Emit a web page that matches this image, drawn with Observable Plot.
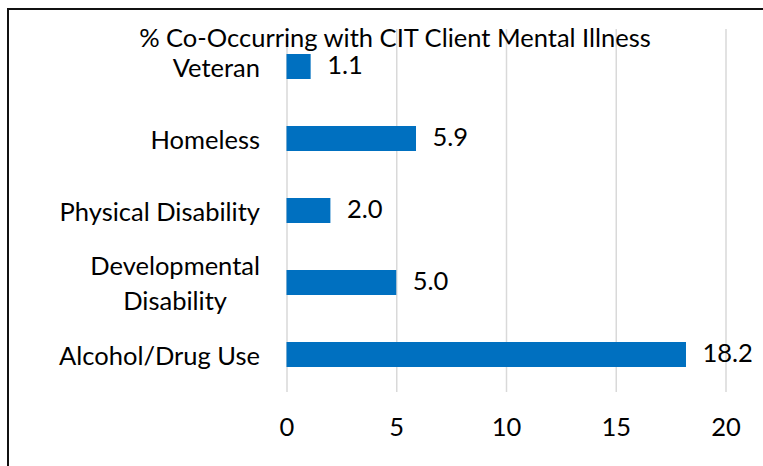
<!DOCTYPE html>
<html><head><meta charset="utf-8">
<script src="https://cdn.jsdelivr.net/npm/d3@7"></script>
<script src="https://cdn.jsdelivr.net/npm/@observablehq/plot@0.6"></script>
<style>
html,body{margin:0;padding:0;background:#fff;overflow:hidden}
#wrap{position:relative;width:763px;height:466px}
#wrap svg{position:absolute;left:0;top:0}
#frame{position:absolute;left:7px;top:8px;width:800px;height:500px;border-top:2px solid #111;border-left:2px solid #111;pointer-events:none}
</style></head><body>
<div id="wrap"><div id="frame"></div></div>
<script>
const categories = ["Veteran", "Homeless", "Physical Disability", "Developmental Disability", "Alcohol/Drug Use"];
const values = [1.1, 5.9, 2.0, 5.0, 18.2];
const xTicks = [0, 5, 10, 15, 20];
const title = "% Co-Occurring with CIT Client Mental Illness";

const data = categories.map((c, i) => ({category: c, value: values[i]}));
const font = "Lato, 'Open Sans', sans-serif";
const fs = 25.5;

const chart = Plot.plot({
  width: 763, height: 466,
  marginLeft: 286.5, marginRight: 37.5, marginTop: 29, marginBottom: 74,
  style: {fontFamily: font, fontSize: fs + "px", color: "#000", background: "transparent"},
  x: {domain: [0, 20], ticks: xTicks},
  y: {domain: categories, paddingInner: 0.65, paddingOuter: 0.325},
  marks: [
    Plot.gridX(xTicks, {stroke: "#d9d9d9", strokeOpacity: 1, strokeWidth: 1.5}),
    Plot.barX(data, {x: "value", y: "category", fill: "#0070C0"}),
    Plot.text(data, {x: "value", y: "category", text: d => d3.format(".1f")(d.value), textAnchor: "start", dx: 16, dy: -1, fontSize: fs, fill: "#000"}),
    Plot.axisX(xTicks, {tickSize: 0, tickPadding: 25, fontSize: fs, label: null, fill: "#000"}),
    Plot.axisY({tickSize: 0, tickPadding: 27, fontSize: fs, label: null, fill: "#000", lineHeight: 1.41, dy: -2,
      tickFormat: d => d.replace("Developmental ", "Developmental\n")}),
    Plot.text([title], {frameAnchor: "top", lineAnchor: "middle", dy: 9, dx: -111.5, fontSize: fs, fill: "#000", text: d => d})
  ]
});
document.getElementById("wrap").insertBefore(chart, document.getElementById("frame"));

// center multi-line y tick labels as a block, right-aligned
d3.select(chart).selectAll("g[aria-label='y-axis tick label'] text").each(function() {
  const tspans = this.querySelectorAll("tspan");
  if (tspans.length > 1) {
    let w = 0;
    tspans.forEach(t => { w = Math.max(w, t.getComputedTextLength()); });
    this.setAttribute("text-anchor", "middle");
    tspans.forEach(t => t.setAttribute("x", -w / 2));
  }
});
</script>
</body></html>
